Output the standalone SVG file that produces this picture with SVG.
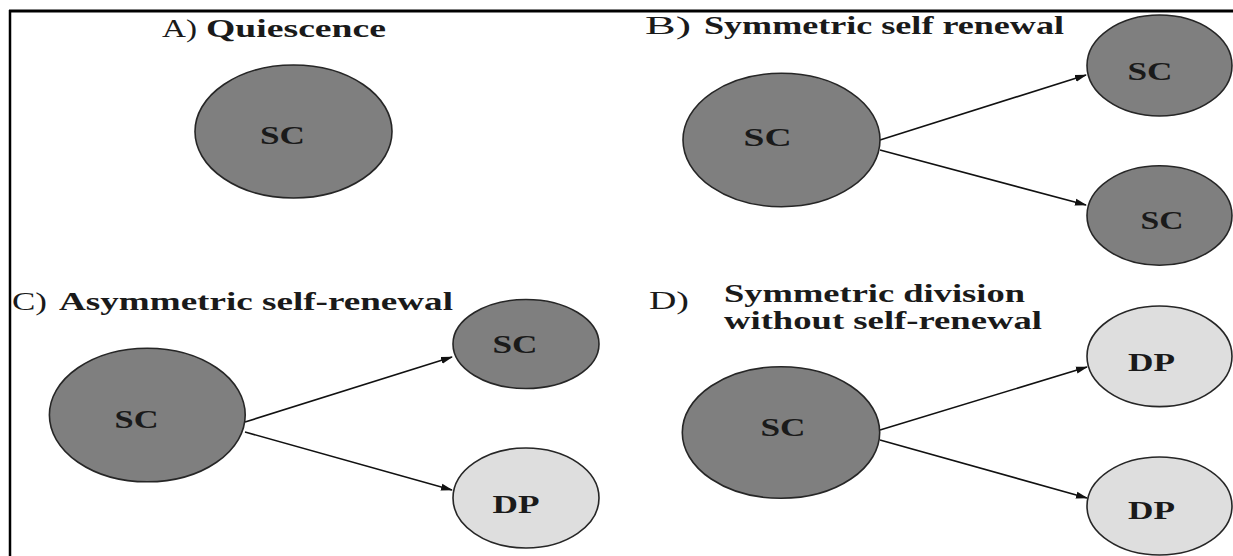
<svg xmlns="http://www.w3.org/2000/svg" width="1233" height="556" viewBox="0 0 1233 556">
<style>
.sc{fill:#7f7f7f;stroke:#262626;stroke-width:1.6}
.dp{fill:#dedede;stroke:#262626;stroke-width:1.6}
.lbl{font-family:"Liberation Serif",serif;font-weight:bold;font-size:25px;fill:#1a1a1a}
.tr{font-family:"Liberation Serif",serif;font-size:26px;fill:#1a1a1a}
.tb{font-family:"Liberation Serif",serif;font-weight:bold;font-size:26px;fill:#1a1a1a}
.con line{stroke:#111;stroke-width:1.6;marker-end:url(#ah)}
</style>
<defs>
<marker id="ah" markerUnits="userSpaceOnUse" markerWidth="12" markerHeight="8" refX="11" refY="4" orient="auto">
<path d="M0,0.5 L12,4 L0,7.5 z" fill="#111"/>
</marker>
</defs>
<rect width="1233" height="556" fill="#fff"/>
<g id="frame">
<line x1="9" y1="11" x2="1233" y2="11" stroke="#000" stroke-width="3"/>
<line x1="10" y1="10" x2="10" y2="556" stroke="#000" stroke-width="2.5"/>
</g>
<g id="titles">
<text class="tr" x="162" y="36.5" textLength="35" lengthAdjust="spacingAndGlyphs">A)</text>
<text class="tb" x="206" y="36.5" textLength="180" lengthAdjust="spacingAndGlyphs">Quiescence</text>
<text class="tr" x="645" y="33.5" textLength="46" lengthAdjust="spacingAndGlyphs">B)</text>
<text class="tb" x="704" y="33.5" textLength="360" lengthAdjust="spacingAndGlyphs">Symmetric self renewal</text>
<text class="tr" x="12" y="310" textLength="35" lengthAdjust="spacingAndGlyphs">C)</text>
<text class="tb" x="59" y="310" textLength="394" lengthAdjust="spacingAndGlyphs">Asymmetric self-renewal</text>
<text class="tr" x="649" y="309" textLength="40" lengthAdjust="spacingAndGlyphs">D)</text>
<text class="tb" x="724" y="302" textLength="301" lengthAdjust="spacingAndGlyphs">Symmetric division</text>
<text class="tb" x="724" y="329" textLength="318" lengthAdjust="spacingAndGlyphs">without self-renewal</text>
</g>
<g id="connectors" class="con">
<line x1="880" y1="140" x2="1086" y2="75"/>
<line x1="880" y1="150" x2="1086" y2="205"/>
<line x1="245" y1="422" x2="452" y2="357"/>
<line x1="245" y1="432" x2="452" y2="490"/>
<line x1="880" y1="430" x2="1087" y2="367"/>
<line x1="880" y1="440" x2="1087" y2="498"/>
</g>
<g id="A-sc"><ellipse class="sc" cx="293.5" cy="131.5" rx="98.5" ry="66.5"/><text class="lbl" x="282.5" y="144" text-anchor="middle" textLength="45" lengthAdjust="spacingAndGlyphs">SC</text></g>
<g id="B-sc"><ellipse class="sc" cx="781.5" cy="140" rx="98.5" ry="66.7"/><text class="lbl" x="767.5" y="146" text-anchor="middle" textLength="48" lengthAdjust="spacingAndGlyphs">SC</text></g>
<g id="B-sc1"><ellipse class="sc" cx="1159.5" cy="65.5" rx="72.5" ry="50.5"/><text class="lbl" x="1150" y="80" text-anchor="middle" textLength="45" lengthAdjust="spacingAndGlyphs">SC</text></g>
<g id="B-sc2"><ellipse class="sc" cx="1159.5" cy="215.5" rx="72.5" ry="49.7"/><text class="lbl" x="1162" y="229" text-anchor="middle" textLength="43" lengthAdjust="spacingAndGlyphs">SC</text></g>
<g id="C-sc"><ellipse class="sc" cx="147.3" cy="415" rx="97.9" ry="66.8"/><text class="lbl" x="136.5" y="428" text-anchor="middle" textLength="44" lengthAdjust="spacingAndGlyphs">SC</text></g>
<g id="C-sc1"><ellipse class="sc" cx="526" cy="344" rx="73" ry="44.5"/><text class="lbl" x="515" y="353" text-anchor="middle" textLength="45" lengthAdjust="spacingAndGlyphs">SC</text></g>
<g id="C-dp"><ellipse class="dp" cx="526" cy="498" rx="73" ry="50"/><text class="lbl" x="516" y="513" text-anchor="middle" textLength="47" lengthAdjust="spacingAndGlyphs">DP</text></g>
<g id="D-sc"><ellipse class="sc" cx="781" cy="432.5" rx="98.7" ry="65.8"/><text class="lbl" x="783" y="436" text-anchor="middle" textLength="45" lengthAdjust="spacingAndGlyphs">SC</text></g>
<g id="D-dp1"><ellipse class="dp" cx="1159.5" cy="356.3" rx="72.5" ry="50.3"/><text class="lbl" x="1151.5" y="371" text-anchor="middle" textLength="47" lengthAdjust="spacingAndGlyphs">DP</text></g>
<g id="D-dp2"><ellipse class="dp" cx="1159.5" cy="506" rx="72.5" ry="49"/><text class="lbl" x="1151.5" y="519" text-anchor="middle" textLength="47" lengthAdjust="spacingAndGlyphs">DP</text></g>
</svg>
